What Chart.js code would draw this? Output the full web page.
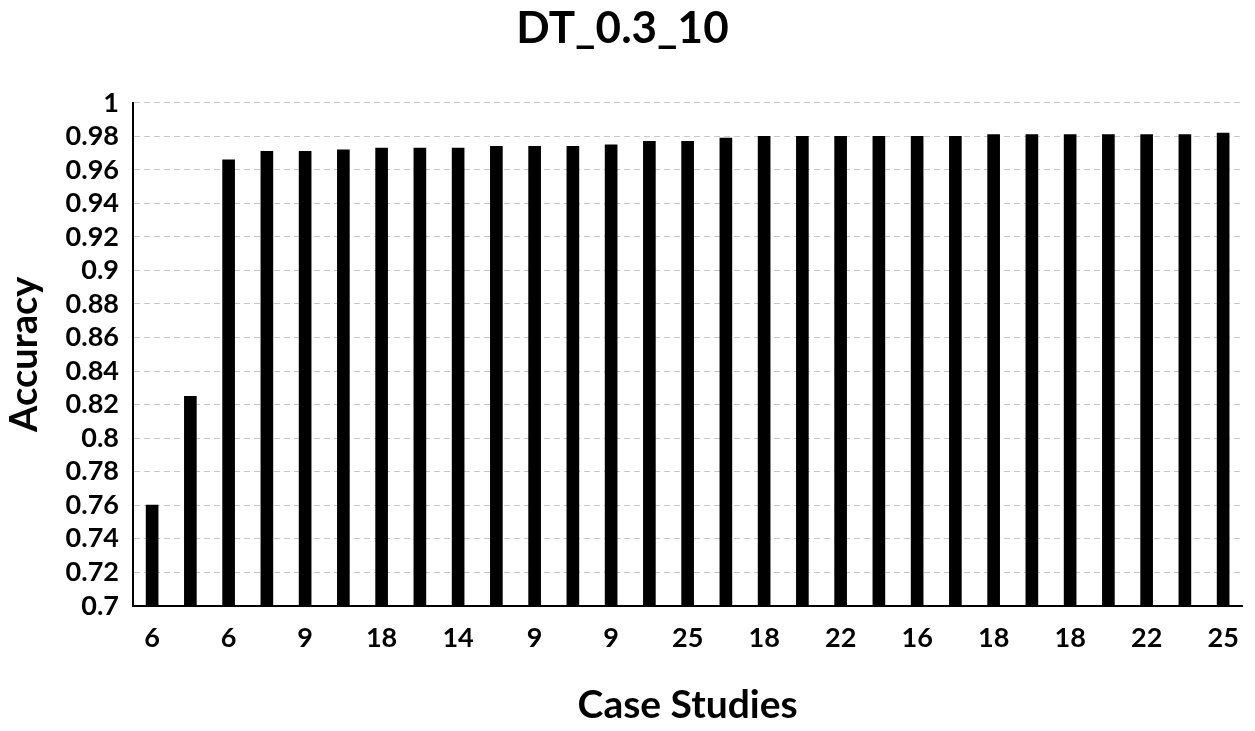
<!DOCTYPE html>
<html>
<head>
<meta charset="utf-8">
<script src="https://cdn.jsdelivr.net/npm/chart.js@4"></script>
<style>
  body { margin: 0; background: #fff; }
  #wrap { width: 1255px; height: 731px; }
</style>
</head>
<body>
<div id="wrap"><canvas id="accChart" width="1255" height="731"></canvas></div>
<script>
// case study labels (only every other one is printed in the original)
const caseLabels = ['6', '', '6', '', '9', '', '18', '', '14', '', '9', '', '9', '', '25',
                    '', '18', '', '22', '', '16', '', '18', '', '18', '', '22', '', '25'];
const accuracy = [0.76, 0.825, 0.966, 0.971, 0.971, 0.972, 0.973, 0.973, 0.973, 0.974,
                  0.974, 0.974, 0.975, 0.977, 0.977, 0.979, 0.98, 0.98, 0.98, 0.98,
                  0.98, 0.98, 0.981, 0.981, 0.981, 0.981, 0.981, 0.981, 0.982];
const yTicks = [0.7, 0.72, 0.74, 0.76, 0.78, 0.8, 0.82, 0.84, 0.86, 0.88,
                0.9, 0.92, 0.94, 0.96, 0.98, 1];

const fontFam = 'Lato, "Open Sans", sans-serif';

const ctx = document.getElementById('accChart').getContext('2d');
new Chart(ctx, {
  type: 'bar',
  data: {
    labels: caseLabels,
    datasets: [{
      label: 'Accuracy',
      data: accuracy,
      backgroundColor: '#000',
      barThickness: 12
    }]
  },
  options: {
    responsive: false,
    animation: false,
    layout: { padding: { left: 2, right: 12, top: 0, bottom: 2 } },
    plugins: {
      legend: { display: false },
      tooltip: { enabled: false },
      title: {
        display: true,
        text: 'DT_0.3_10',
        color: '#000',
        font: { family: fontFam, size: 44, weight: 'bold' },
        padding: { top: 2, bottom: 48 }
      }
    },
    scales: {
      x: {
        grid: { display: false, drawTicks: false },
        border: { display: true, color: '#000', width: 2 },
        ticks: {
          autoSkip: false,
          maxRotation: 0,
          color: '#000',
          padding: 16,
          font: { family: fontFam, size: 27, weight: 'bold' }
        },
        title: {
          display: true,
          text: 'Case Studies',
          color: '#000',
          font: { family: fontFam, size: 39, weight: 'bold' },
          padding: { top: 12, bottom: 0 }
        }
      },
      y: {
        min: 0.7,
        max: 1,
        afterBuildTicks: axis => { axis.ticks = yTicks.map(v => ({ value: v })); },
        grid: {
          color: '#c8c8c8',
          lineWidth: 1,
          drawTicks: false
        },
        border: { display: true, color: '#000', width: 2, dash: [6, 4] },
        ticks: {
          autoSkip: false,
          color: '#000',
          padding: 14,
          font: { family: fontFam, size: 27, weight: 'bold' },
          callback: v => String(Math.round(v * 100) / 100)
        },
        title: {
          display: true,
          text: 'Accuracy',
          color: '#000',
          font: { family: fontFam, size: 38, weight: 'bold' },
          padding: { top: 0, bottom: 4 }
        }
      }
    }
  }
});
</script>
</body>
</html>
